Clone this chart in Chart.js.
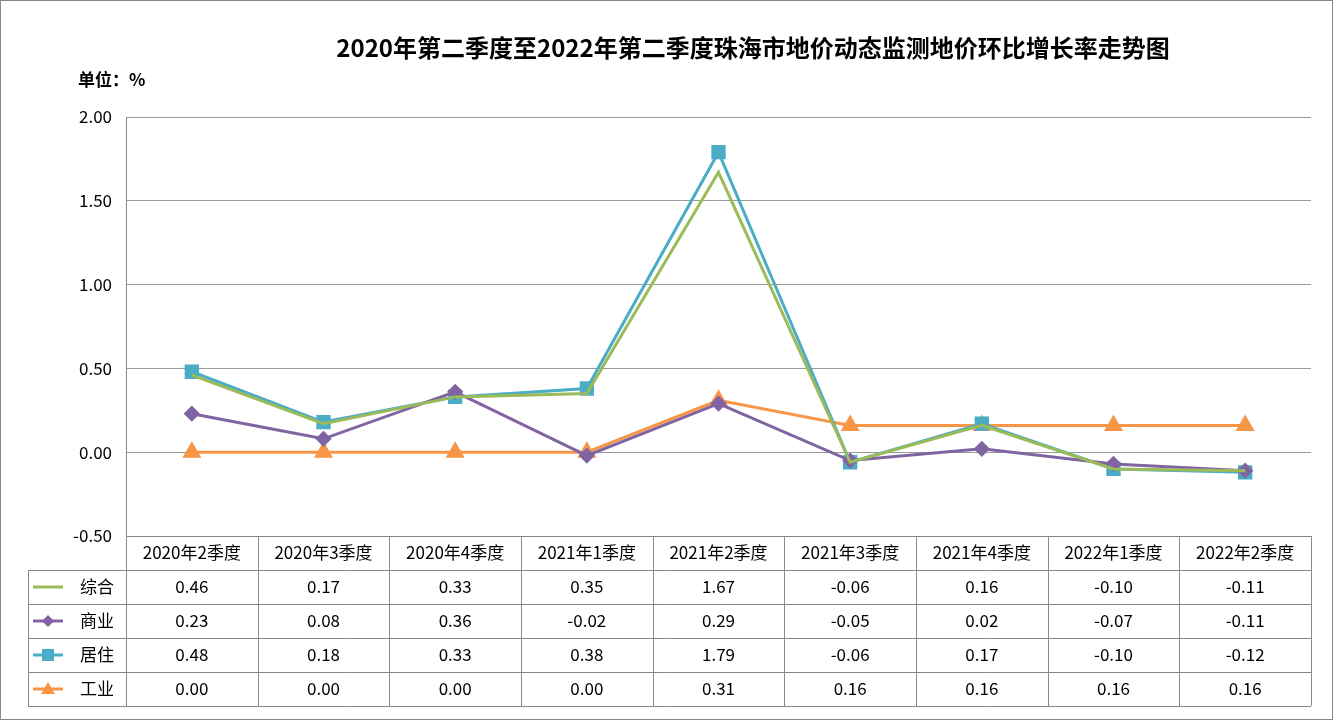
<!DOCTYPE html>
<html><head><meta charset="utf-8">
<script src="https://cdn.jsdelivr.net/npm/chart.js@4/dist/chart.umd.min.js"></script>
<style>body{margin:0;background:#fff}canvas{display:block}</style>
</head><body>
<canvas id="c" width="1333" height="720"></canvas>
<script>
const categories=["2020年2季度","2020年3季度","2020年4季度","2021年1季度","2021年2季度","2021年3季度","2021年4季度","2022年1季度","2022年2季度"];
const zonghe=[0.46,0.17,0.33,0.35,1.67,-0.06,0.16,-0.10,-0.11];
const shangye=[0.23,0.08,0.36,-0.02,0.29,-0.05,0.02,-0.07,-0.11];
const juzhu=[0.48,0.18,0.33,0.38,1.79,-0.06,0.17,-0.10,-0.12];
const gongye=[0.00,0.00,0.00,0.00,0.31,0.16,0.16,0.16,0.16];
const yTicks=[-0.5,0,0.5,1,1.5,2];
const FONT='"Noto Sans CJK SC","Noto Sans",sans-serif';
const series=[
 {label:"综合",data:zonghe,borderColor:"#9BBB59",pointStyle:false,pointRadius:0},
 {label:"商业",data:shangye,borderColor:"#8064A2",pointStyle:"rectRot",pointRadius:6},
 {label:"居住",data:juzhu,borderColor:"#4BACC6",pointStyle:"rect",pointRadius:8},
 {label:"工业",data:gongye,borderColor:"#F79646",pointStyle:"triangle",pointRadius:8}
].map(s=>({...s,backgroundColor:s.borderColor,borderWidth:3,tension:0}));
const tablePlugin={id:"tbl",afterDraw(ch){
 const c=ch.ctx,a=ch.chartArea,x=ch.scales.x;
 const rows=[570,604,638,672,706];
 c.save();c.strokeStyle="#888";c.lineWidth=1;
 c.beginPath();
 c.moveTo(a.left+.5,a.top);c.lineTo(a.left+.5,706);
 c.moveTo(28.5,570);c.lineTo(28.5,706);
 c.moveTo(a.left,a.bottom+.5);c.lineTo(a.right,a.bottom+.5);
 rows.forEach(r=>{c.moveTo(28,r+.5);c.lineTo(a.right,r+.5);});
 const w=(a.right-a.left)/categories.length;
 for(let i=1;i<=categories.length;i++){const xx=Math.round(a.left+i*w)+.5;c.moveTo(xx,a.bottom);c.lineTo(xx,706);}
 c.stroke();
 c.fillStyle="#000";c.textAlign="center";c.textBaseline="middle";
 c.font="17px "+FONT;
 categories.forEach((k,i)=>c.fillText(k,x.getPixelForValue(i),553));
 series.forEach((s,r)=>{
  const cy=(rows[r]+rows[r+1])/2;
  s.data.forEach((v,i)=>c.fillText(v.toFixed(2),x.getPixelForValue(i),cy));
  c.strokeStyle=s.borderColor;c.lineWidth=3;c.beginPath();c.moveTo(33,cy);c.lineTo(63,cy);c.stroke();
  c.fillStyle=s.borderColor;
  if(s.pointStyle){c.beginPath();
   if(s.pointStyle==="rect"){c.rect(42,cy-6,12,12);}
   else if(s.pointStyle==="rectRot"){c.moveTo(48,cy-6);c.lineTo(54,cy);c.lineTo(48,cy+6);c.lineTo(42,cy);c.closePath();}
   else {c.moveTo(48,cy-7);c.lineTo(55,cy+5);c.lineTo(41,cy+5);c.closePath();}
   c.fill();}
  c.fillStyle="#000";c.textAlign="left";c.fillText(s.label,80,cy);c.textAlign="center";
 });
 c.font="bold 24px "+FONT;c.fillText("2020年第二季度至2022年第二季度珠海市地价动态监测地价环比增长率走势图",753,48);
 c.font="bold 17px "+FONT;c.textAlign="left";c.fillText("单位：%",78,80);
 c.strokeStyle="#888";c.lineWidth=1;c.strokeRect(.5,.5,1332,719);
 c.restore();
}};
new Chart(document.getElementById("c"),{type:"line",data:{labels:categories,datasets:series},
 options:{responsive:false,animation:false,layout:{padding:{top:117,bottom:184,right:22,left:0}},
 plugins:{legend:{display:false},tooltip:{enabled:false}},
 scales:{x:{display:false,offset:true},
  y:{min:-0.5,max:2,afterFit:s=>{s.width=126},afterBuildTicks:s=>{s.ticks=yTicks.map(v=>({value:v}))},
   ticks:{color:"#000",font:{size:17,family:FONT},padding:14,callback:v=>v.toFixed(2)},
   grid:{color:"#999",drawTicks:false},border:{display:false}}}},
 plugins:[tablePlugin]});
</script></body></html>
